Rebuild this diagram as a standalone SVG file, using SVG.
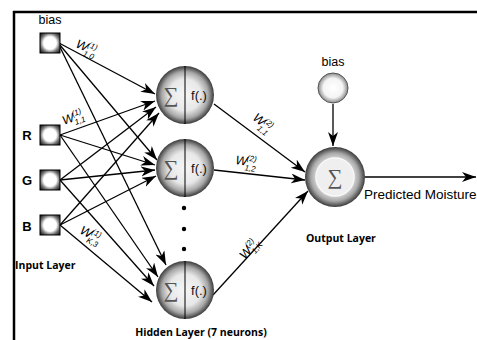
<svg xmlns="http://www.w3.org/2000/svg" width="477" height="340" viewBox="0 0 477 340">
<style>
.lbl{font-family:"Liberation Sans",Arial,sans-serif;font-size:12.5px;fill:#000}
.in{font-family:"Liberation Sans",Arial,sans-serif;font-size:13px;font-weight:bold;fill:#000}
.lay{font-family:"Open Sans","Liberation Sans",sans-serif;font-size:10.5px;font-weight:bold;fill:#000}
.w{font-family:"Liberation Sans",Arial,sans-serif;font-style:italic;font-size:12.5px;fill:#000}
.ws{font-family:"Liberation Sans",Arial,sans-serif;font-style:italic;font-size:8px;fill:#000}
.sig{font-family:"Liberation Serif","DejaVu Serif",serif;font-size:21px;fill:#555}
.fx{font-family:"Liberation Sans",Arial,sans-serif;font-size:13px;fill:#111}
.c line{stroke:#000;stroke-width:1.3;fill:none;marker-end:url(#ah)}
</style>
<defs>
<marker id="ah" markerUnits="userSpaceOnUse" markerWidth="15" markerHeight="11" refX="14" refY="5" orient="auto">
<path d="M0,0 L14,5 L0,10 L4,5 Z" fill="#000"/>
</marker>
<radialGradient id="sph" cx="0.5" cy="0.5" r="0.5">
<stop offset="0" stop-color="#f6f6f6"/>
<stop offset="0.55" stop-color="#e8e8e8"/>
<stop offset="0.8" stop-color="#a8a8a8"/>
<stop offset="1" stop-color="#3a3a3a"/>
</radialGradient>
<radialGradient id="sq" cx="0.5" cy="0.5" r="0.7">
<stop offset="0" stop-color="#ffffff"/>
<stop offset="0.45" stop-color="#ffffff"/>
<stop offset="0.68" stop-color="#777"/>
<stop offset="1" stop-color="#000"/>
</radialGradient>
<radialGradient id="bc" cx="0.5" cy="0.5" r="0.5">
<stop offset="0" stop-color="#ffffff"/>
<stop offset="0.65" stop-color="#f4f4f4"/>
<stop offset="1" stop-color="#8a8a8a"/>
</radialGradient>
</defs>
<rect x="0" y="0" width="477" height="340" fill="#fff"/>
<g id="frame" stroke="#000" stroke-width="2.5" fill="none">
<line x1="13" y1="12" x2="477" y2="12"/>
<line x1="14" y1="11" x2="14" y2="340"/>
</g>

<g id="connectors" class="c">
<line x1="59" y1="43" x2="155" y2="94"/>
<line x1="60" y1="135" x2="155" y2="101"/>
<line x1="60" y1="180" x2="156" y2="107"/>
<line x1="60" y1="225" x2="159" y2="113"/>
<line x1="59" y1="44" x2="157" y2="160"/>
<line x1="60" y1="135" x2="155" y2="165"/>
<line x1="60" y1="180" x2="155" y2="170"/>
<line x1="60" y1="225" x2="156" y2="176"/>
<line x1="59" y1="45" x2="166" y2="265"/>
<line x1="60" y1="135" x2="158" y2="277"/>
<line x1="60" y1="180" x2="154" y2="286"/>
<line x1="60" y1="225" x2="152" y2="302"/>
<line x1="214" y1="104" x2="305" y2="172"/>
<line x1="214" y1="170" x2="305" y2="180"/>
<line x1="213" y1="295" x2="308" y2="191"/>
<line x1="333" y1="104" x2="333" y2="146"/>
<line x1="365" y1="177" x2="476" y2="177"/>
</g>

<g id="in-bias">
<rect x="40" y="33" width="20" height="20" fill="url(#sq)" stroke="#000" stroke-width="1"/>
<text x="50" y="24" class="lbl" text-anchor="middle">bias</text>
</g>
<g id="in-R">
<rect x="40" y="125" width="20" height="20" fill="url(#sq)" stroke="#000" stroke-width="1"/>
<text x="27" y="140" class="in" text-anchor="middle">R</text>
</g>
<g id="in-G">
<rect x="40" y="170" width="20" height="20" fill="url(#sq)" stroke="#000" stroke-width="1"/>
<text x="27" y="185" class="in" text-anchor="middle">G</text>
</g>
<g id="in-B">
<rect x="40" y="215" width="20" height="20" fill="url(#sq)" stroke="#000" stroke-width="1"/>
<text x="27" y="231" class="in" text-anchor="middle">B</text>
</g>
<text x="15" y="269" class="lay">Input Layer</text>

<g id="h1">
<circle cx="185" cy="95" r="29" fill="url(#sph)"/>
<line x1="185" y1="66" x2="185" y2="124" stroke="#000" stroke-width="1"/>
<text x="171" y="102" class="sig" text-anchor="middle">∑</text>
<text x="199" y="100" class="fx" text-anchor="middle">f(.)</text>
</g>
<g id="h2">
<circle cx="185" cy="168" r="29" fill="url(#sph)"/>
<line x1="185" y1="139" x2="185" y2="197" stroke="#000" stroke-width="1"/>
<text x="171" y="175" class="sig" text-anchor="middle">∑</text>
<text x="199" y="173" class="fx" text-anchor="middle">f(.)</text>
</g>
<g id="dots" fill="#000">
<circle cx="184" cy="208" r="2.2"/>
<circle cx="184" cy="229" r="2.2"/>
<circle cx="184" cy="249" r="2.2"/>
</g>
<g id="h3">
<circle cx="185" cy="290" r="29" fill="url(#sph)"/>
<line x1="185" y1="261" x2="185" y2="319" stroke="#000" stroke-width="1"/>
<text x="171" y="297" class="sig" text-anchor="middle">∑</text>
<text x="199" y="295" class="fx" text-anchor="middle">f(.)</text>
</g>
<text x="201" y="336" class="lay" text-anchor="middle">Hidden Layer (7 neurons)</text>

<g id="out-bias">
<circle cx="333" cy="88" r="15" fill="url(#bc)" stroke="#555" stroke-width="1"/>
<text x="333" y="66" class="lbl" text-anchor="middle">bias</text>
</g>
<g id="out">
<circle cx="335" cy="177" r="30" fill="url(#sph)"/>
<circle cx="335" cy="177" r="19" fill="#efefef" stroke="#f8f8f8" stroke-width="1.5"/>
<text x="335" y="184" class="sig" text-anchor="middle">∑</text>
</g>
<text x="364" y="199" class="lbl" style="font-size:13.5px">Predicted Moisture</text>
<text x="306" y="242" class="lay">Output Layer</text>

<g id="weights">
<g transform="translate(75,47) rotate(23)"><text class="w">W</text><text x="11" y="-5" class="ws">(1)</text><text x="10" y="5" class="ws">1,0</text></g>
<g transform="translate(64,125) rotate(-20)"><text class="w">W</text><text x="11" y="-5" class="ws">(1)</text><text x="11" y="4" class="ws">1,1</text></g>
<g transform="translate(79,233) rotate(27)"><text class="w">W</text><text x="11" y="-5" class="ws">(1)</text><text x="10" y="5" class="ws">K,3</text></g>
<g transform="translate(252,119) rotate(39)"><text class="w">W</text><text x="11" y="-5" class="ws">(2)</text><text x="10" y="5" class="ws">1,1</text></g>
<g transform="translate(235,164) rotate(8)"><text class="w">W</text><text x="11" y="-5" class="ws">(2)</text><text x="10" y="5" class="ws">1,2</text></g>
<g transform="translate(245,260) rotate(-50)"><text class="w">W</text><text x="11" y="-5" class="ws">(2)</text><text x="11" y="4" class="ws">1,K</text></g>
</g>
</svg>
